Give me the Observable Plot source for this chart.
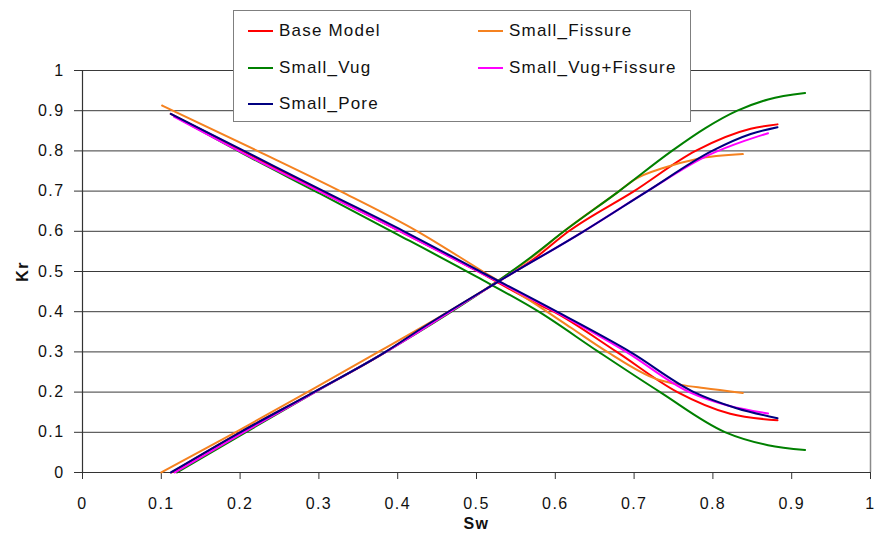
<!DOCTYPE html>
<html>
<head>
<meta charset="utf-8">
<script src="https://cdn.jsdelivr.net/npm/d3@7"></script>
<script src="https://cdn.jsdelivr.net/npm/@observablehq/plot@0.6"></script>
<style>
  html, body { margin: 0; padding: 0; background: #fff; }
  #chart { position: relative; width: 875px; height: 542px; font-family: "Liberation Sans", Arial, sans-serif; }
  #chart svg text { letter-spacing: 1.4px; }
  .legend { position: absolute; left: 233px; top: 10px; width: 456px; height: 110px;
            border: 1.5px solid #7f7f7f; background: #fff; }
  .legend .item { position: absolute; display: flex; align-items: center; font-size: 17px;
                  letter-spacing: 1.2px; color: #111; height: 20px; }
  .legend .swatch { width: 25px; height: 2px; margin-right: 6px; }
</style>
</head>
<body>
<div id="chart"></div>
<script>
// Relative permeability curves (Kr vs water saturation Sw) for each pore model.
const seriesNames = ["Base Model", "Small_Fissure", "Small_Vug", "Small_Vug+Fissure", "Small_Pore"];
const seriesColors = ["#ff0000", "#f58220", "#008000", "#ff00ff", "#000080"];

// [Sw, Kr] pairs — oil curves (Kro, falling) and water curves (Krw, rising)
const baseModelKro = [[0.112,0.892],[0.2,0.803],[0.3,0.702],[0.4,0.603],[0.5,0.502],[0.57,0.427],[0.598,0.4],[0.678,0.3],[0.755,0.2],[0.822,0.146],[0.882,0.13]];
const baseModelKrw = [[0.113,0],[0.2,0.1],[0.294,0.2],[0.385,0.3],[0.43,0.357],[0.526,0.473],[0.57,0.527],[0.617,0.6],[0.7,0.7],[0.778,0.8],[0.848,0.855],[0.882,0.866]];

const fissureKro = [[0.101,0.913],[0.222,0.8],[0.327,0.7],[0.425,0.6],[0.5,0.51],[0.57,0.425],[0.62,0.36],[0.666,0.3],[0.729,0.232],[0.76,0.218],[0.788,0.21],[0.838,0.198]];
const fissureKrw = [[0.1,0],[0.194,0.1],[0.29,0.205],[0.38,0.305],[0.526,0.475],[0.57,0.535],[0.611,0.6],[0.681,0.7],[0.7,0.728],[0.738,0.758],[0.78,0.78],[0.838,0.792]];

const vugKro = [[0.118,0.885],[0.2,0.797],[0.3,0.695],[0.4,0.592],[0.5,0.487],[0.579,0.4],[0.655,0.3],[0.733,0.2],[0.816,0.1],[0.87,0.068],[0.917,0.056]];
const vugKrw = [[0.12,0],[0.207,0.1],[0.295,0.2],[0.385,0.3],[0.526,0.475],[0.5685,0.535],[0.611,0.6],[0.681,0.7],[0.748,0.8],[0.79,0.856],[0.831,0.9],[0.87,0.928],[0.917,0.944]];

const vugFissureKro = [[0.116,0.885],[0.203,0.795],[0.305,0.695],[0.408,0.595],[0.5,0.502],[0.6,0.4],[0.69,0.3],[0.77,0.2],[0.82,0.166],[0.87,0.147]];
const vugFissureKrw = [[0.117,0],[0.2,0.095],[0.295,0.2],[0.385,0.3],[0.526,0.473],[0.636,0.6],[0.717,0.7],[0.795,0.79],[0.84,0.825],[0.87,0.844]];

const poreKro = [[0.112,0.892],[0.205,0.8],[0.306,0.7],[0.408,0.6],[0.5,0.505],[0.602,0.4],[0.695,0.3],[0.776,0.2],[0.83,0.16],[0.882,0.135]];
const poreKrw = [[0.112,0],[0.2,0.1],[0.2935,0.2],[0.3845,0.3],[0.429,0.357],[0.526,0.473],[0.636,0.6],[0.717,0.7],[0.799,0.8],[0.848,0.842],[0.882,0.859]];

const swTicks = [0,0.1,0.2,0.3,0.4,0.5,0.6,0.7,0.8,0.9,1];
const krTicks = [0,0.1,0.2,0.3,0.4,0.5,0.6,0.7,0.8,0.9,1];

const curveSets = [
  ["Base Model", baseModelKro, baseModelKrw],
  ["Small_Fissure", fissureKro, fissureKrw],
  ["Small_Vug", vugKro, vugKrw],
  ["Small_Vug+Fissure", vugFissureKro, vugFissureKrw],
  ["Small_Pore", poreKro, poreKrw]
];
const rows = curveSets.flatMap(([series, kro, krw]) => [
  ...kro.map(([sw, kr]) => ({series, phase: "Kro", sw, kr})),
  ...krw.map(([sw, kr]) => ({series, phase: "Krw", sw, kr}))
]);

const fmt = d => String(+d.toFixed(1));

const plot = Plot.plot({
  width: 875,
  height: 542,
  marginLeft: 82,
  marginRight: 5,
  marginTop: 70,
  marginBottom: 70,
  style: {fontFamily: "'Liberation Sans', Arial, sans-serif", fontSize: "16px", color: "#111", background: "#fff"},
  x: {domain: [0, 1]},
  y: {domain: [0, 1]},
  color: {domain: seriesNames, range: seriesColors},
  marks: [
    Plot.ruleY(krTicks.filter(d => d > 0), {stroke: "#3a3a3a", strokeWidth: 1}),
    Plot.ruleX([1], {stroke: "#8a8a8a", strokeWidth: 1.5}),
    Plot.axisY({ticks: krTicks, tickSize: 8, tickPadding: 10, tickFormat: fmt, label: null, stroke: "#333"}),
    Plot.axisX({ticks: swTicks, tickSize: 7, tickPadding: 18, tickFormat: fmt, label: null, stroke: "#333"}),
    Plot.ruleX([0], {stroke: "#333", strokeWidth: 1.2}),
    Plot.ruleY([0], {stroke: "#333", strokeWidth: 1.2}),
    Plot.line(rows, {x: "sw", y: "kr", z: d => d.series + d.phase, stroke: "series", strokeWidth: 2, curve: "monotone-x"}),
    Plot.text(["Kr"], {text: d => d, frameAnchor: "left", textAnchor: "middle", lineAnchor: "middle", dx: -60, rotate: -90, fontWeight: "bold", fontSize: 16}),
    Plot.text(["Sw"], {text: d => d, frameAnchor: "bottom", textAnchor: "middle", lineAnchor: "middle", dy: 51, fontWeight: "bold", fontSize: 16})
  ]
});

const chart = document.getElementById("chart");
chart.appendChild(plot);

// Legend box laid over the upper part of the plot area, two columns
const legend = document.createElement("div");
legend.className = "legend";
const slots = [[14, 10], [244, 10], [14, 47], [244, 47], [14, 83]];
seriesNames.forEach((name, i) => {
  const item = document.createElement("div");
  item.className = "item";
  item.style.left = slots[i][0] + "px";
  item.style.top = slots[i][1] + "px";
  const sw = document.createElement("span");
  sw.className = "swatch";
  sw.style.background = seriesColors[i];
  const label = document.createElement("span");
  label.textContent = name;
  item.appendChild(sw);
  item.appendChild(label);
  legend.appendChild(item);
});
chart.appendChild(legend);
</script>
</body>
</html>
